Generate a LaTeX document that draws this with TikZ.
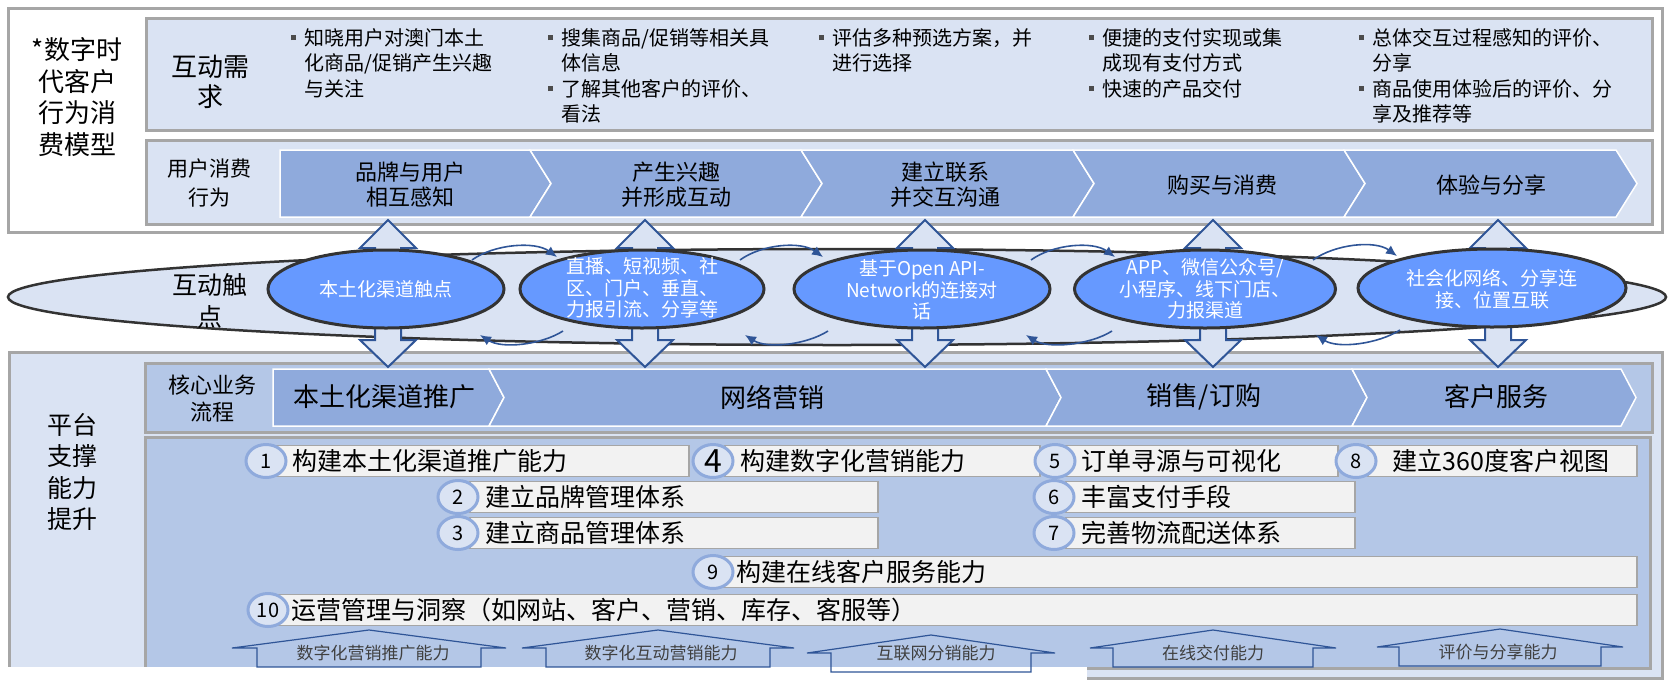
\documentclass[tikz,border=0pt]{standalone}
\usepackage{fontspec}
\setmainfont{Noto Sans CJK SC}
\usepackage{tikz}
\usetikzlibrary{shapes.geometric,arrows.meta,calc}
\definecolor{paleblue}{HTML}{DAE3F3}
\definecolor{midblue}{HTML}{B4C7E7}
\definecolor{chevblue}{HTML}{8FAADC}
\definecolor{ovalblue}{HTML}{6699FF}
\definecolor{lineblue}{HTML}{2F5597}
\definecolor{framegray}{HTML}{A6A6A6}
\definecolor{itemgray}{HTML}{F2F2F2}
\newcommand{\bul}{\makebox[13pt][l]{\color{black!70}\rule[5pt]{5pt}{5pt}}}
\newcommand{\ind}{\hspace*{13pt}}
\newcommand{\chevron}[6]{\filldraw[chev] (#1,#3) -- ({#2-#5},#3) -- (#2,{(#3+#4)/2}) -- ({#2-#5},#4) -- (#1,#4) -- ({#1+#6*#5},{(#3+#4)/2}) -- cycle;}
\tikzstyle{frame} = [draw=framegray, line width=3pt]
\tikzstyle{panel} = [frame, fill=paleblue]
\tikzstyle{subpanel} = [frame, fill=midblue]
\tikzstyle{chev} = [fill=chevblue, draw=white, line width=1.5pt]
\tikzstyle{needtext} = [anchor=north west, inner sep=0pt, align=left,
  font=\fontsize{20}{25.5}\selectfont]
\tikzstyle{label} = [align=center, inner sep=0pt]
\tikzstyle{touch} = [ellipse, draw=black!80, line width=3pt, fill=ovalblue,
  inner sep=0pt, minimum height=78pt]
\tikzstyle{touchtext} = [align=center, text=white, inner sep=0pt,
  font=\fontsize{19}{21.5}\selectfont]
\tikzstyle{duplex} = [draw=lineblue, line width=2pt, fill=paleblue]
\tikzstyle{itembox} = [rectangle, draw=framegray, line width=1.5pt, fill=itemgray,
  anchor=west, align=left, inner xsep=16pt, inner ysep=0pt, minimum height=31pt,
  font=\fontsize{25}{25}\selectfont]
\tikzstyle{badge} = [ellipse, draw=chevblue, line width=3pt, fill=paleblue,
  minimum width=40pt, minimum height=33pt, inner sep=0pt, font=\fontsize{20}{20}\selectfont]
\tikzstyle{house} = [draw=lineblue, line width=1.2pt]
\tikzstyle{housetext} = [inner sep=0pt, text=black!75, font=\fontsize{17}{17}\selectfont]
\tikzstyle{line} = [draw=lineblue, line width=1.6pt, -{Latex[length=11pt,width=10pt]}]

\begin{document}
\begin{tikzpicture}[x=1pt, y=-1pt]
    \useasboundingbox (0,0) rectangle (1672,683);

    \draw[frame, fill=white] (8.5,8.5) rectangle (1662,232);
    \draw[panel] (146,18) rectangle (1652,130);
    \draw[panel] (146,140) rectangle (1652,224);
    \node[label, font=\fontsize{26}{31.5}\selectfont] (model) at (77,97) {*数字时\\代客户\\行为消\\费模型};
    \node[label, font=\fontsize{26}{30}\selectfont] (need) at (210,82) {互动需\\求};
    \node[label, font=\fontsize{21}{29}\selectfont] (behave) at (209,183) {用户消费\\行为};

    \node[needtext] (need1) at (291,28) {\bul 知晓用户对澳门本土\\\ind 化商品/促销产生兴趣\\\ind 与关注};
    \node[needtext] (need2) at (548,28) {\bul 搜集商品/促销等相关具\\\ind 体信息\\\bul 了解其他客户的评价、\\\ind 看法};
    \node[needtext] (need3) at (819,28) {\bul 评估多种预选方案，并\\\ind 进行选择};
    \node[needtext] (need4) at (1089,28) {\bul 便捷的支付实现或集\\\ind 成现有支付方式\\\bul 快速的产品交付};
    \node[needtext] (need5) at (1359,28) {\bul 总体交互过程感知的评价、\\\ind 分享\\\bul 商品使用体验后的评价、分\\\ind 享及推荐等};

    \chevron{280}{551}{150}{217}{21}{0}
    \chevron{530}{822}{150}{217}{21}{1}
    \chevron{801}{1094}{150}{217}{21}{1}
    \chevron{1073}{1365}{150}{217}{21}{1}
    \chevron{1344}{1637}{150}{217}{21}{1}
    \node[label, font=\fontsize{22}{25}\selectfont] (stage1) at (410,184.5) {品牌与用户\\相互感知};
    \node[label, font=\fontsize{22}{25}\selectfont] (stage2) at (676,184.5) {产生兴趣\\并形成互动};
    \node[label, font=\fontsize{22}{25}\selectfont] (stage3) at (945,184.5) {建立联系\\并交互沟通};
    \node[label, font=\fontsize{22}{25}\selectfont] (stage4) at (1222,185) {购买与消费};
    \node[label, font=\fontsize{22}{25}\selectfont] (stage5) at (1491,185) {体验与分享};

    \draw[panel] (9,352) rectangle (1662,678);
    \draw[subpanel] (145,363) rectangle (1652,432);
    \draw[subpanel] (145,437) rectangle (1650,668);
    \node[label, font=\fontsize{25}{31.5}\selectfont] (lift) at (72,472) {平台\\支撑\\能力\\提升};
    \node[label, font=\fontsize{22}{27}\selectfont] (core) at (212,398.5) {核心业务\\流程};
    \chevron{273}{504}{369}{426}{15}{0}
    \chevron{489}{1061}{369}{426}{15}{1}
    \chevron{1046}{1367}{369}{426}{15}{1}
    \chevron{1352}{1636}{369}{426}{15}{1}
    \node[label, font=\fontsize{26}{26}\selectfont] (flow1) at (384,397) {本土化渠道推广};
    \node[label, font=\fontsize{26}{26}\selectfont] (flow2) at (772,397) {网络营销};
    \node[label, font=\fontsize{26}{26}\selectfont] (flow3) at (1204,397) {销售/订购};
    \node[label, font=\fontsize{26}{26}\selectfont] (flow4) at (1496,397) {客户服务};

    \node[itembox, text width=380pt] (item1) at (276,461) {构建本土化渠道推广能力};
    \node[itembox, text width=283pt] (item4) at (724,461) {构建数字化营销能力};
    \node[itembox, text width=240pt] (item5) at (1065,461) {订单寻源与可视化};
    \node[itembox, text width=237pt] (item8) at (1367,461) {\hspace*{9pt}建立360度客户视图};
    \node[itembox, text width=376pt] (item2) at (469,497) {建立品牌管理体系};
    \node[itembox, text width=376pt] (item3) at (469,533) {建立商品管理体系};
    \node[itembox, text width=257pt] (item6) at (1065,497) {丰富支付手段};
    \node[itembox, text width=257pt] (item7) at (1065,533) {完善物流配送体系};
    \node[itembox, text width=884pt] (item9) at (720,572) {构建在线客户服务能力};
    \node[itembox, text width=1329pt] (item10) at (275,610) {运营管理与洞察（如网站、客户、营销、库存、客服等）};
    \node[badge] (no1) at (266,461) {1};
    \node[badge, font=\fontsize{32}{32}\selectfont] (no4) at (713,461) {4};
    \node[badge] (no5) at (1055,461) {5};
    \node[badge] (no8) at (1356,461) {8};
    \node[badge] (no2) at (458,497) {2};
    \node[badge] (no3) at (458,533) {3};
    \node[badge] (no6) at (1054,497) {6};
    \node[badge] (no7) at (1054,533) {7};
    \node[badge] (no9) at (713,572) {9};
    \node[badge] (no10) at (268,610) {10};

    \fill[white] (0,667) rectangle (1087,683);
    \foreach \c/\w/\s/\t/\b in {369/137/112/630/667, 658/136/112/630/667, 931/124/100/635/672,
      1213/123/100/630/667, 1500/123/101/629/666}
      \draw[house] (\c-\s,\b) -- (\c-\s,\t+18) -- (\c-\w,\t+18) -- (\c,\t) -- (\c+\w,\t+18)
        -- (\c+\s,\t+18) -- (\c+\s,\b) -- cycle;
    \node[housetext] (cap1) at (373,653) {数字化营销推广能力};
    \node[housetext] (cap2) at (661,653) {数字化互动营销能力};
    \node[housetext] (cap3) at (936,653) {互联网分销能力};
    \node[housetext] (cap4) at (1213,653) {在线交付能力};
    \node[housetext] (cap5) at (1498,652) {评价与分享能力};

    \node[ellipse, draw=black!80, line width=2.5pt, fill=paleblue, inner sep=0pt,
      minimum width=1658pt, minimum height=96pt] (band) at (837,297) {};
    \foreach \x in {388,645,925,1213,1498}
      \draw[duplex] (\x,220) -- (\x+28,248) -- (\x+13,248) -- (\x+13,340) -- (\x+28,340)
        -- (\x,367) -- (\x-28,340) -- (\x-13,340) -- (\x-13,248) -- (\x-28,248) -- cycle;
    \node[label, font=\fontsize{25}{32}\selectfont] (touchpt) at (210,301) {互动触\\点};

    \node[touch, minimum width=236pt] (e1) at (386,289) {};
    \node[touch, minimum width=244pt] (e2) at (642,289) {};
    \node[touch, minimum width=256pt] (e3) at (922,289) {};
    \node[touch, minimum width=261pt] (e4) at (1205,289) {};
    \node[touch, minimum width=268pt] (e5) at (1492,288) {};
    \node[touchtext] (e1t) at (e1.center) {本土化渠道触点};
    \node[touchtext] (e2t) at (642,288) {直播、短视频、社\\区、门户、垂直、\\力报引流、分享等};
    \node[touchtext] (e3t) at (922,290) {基于Open API-\\Network的连接对\\话};
    \node[touchtext] (e4t) at (1205,289) {APP、微信公众号/\\小程序、线下门店、\\力报渠道};
    \node[touchtext] (e5t) at (1492,289) {社会化网络、分享连\\接、位置互联};

    \foreach \a/\b/\s/\e/\u/\v in {e1/e2/86/85/79/94, e2/e3/98/99/94/103,
      e3/e4/109/90/93/104, e4/e5/108/95/92/111} {
      \path[line] ($(\a.center)+(\s,-29)$) .. controls +(22,-16) and +(-22,-16) .. ($(\b.center)+(-\e,-32)$);
      \path[line] ($(\b.center)+(-\u,42)$) .. controls +(-22,14) and +(22,14) .. ($(\a.center)+(\v,46)$);
    }
\end{tikzpicture}
\end{document}
